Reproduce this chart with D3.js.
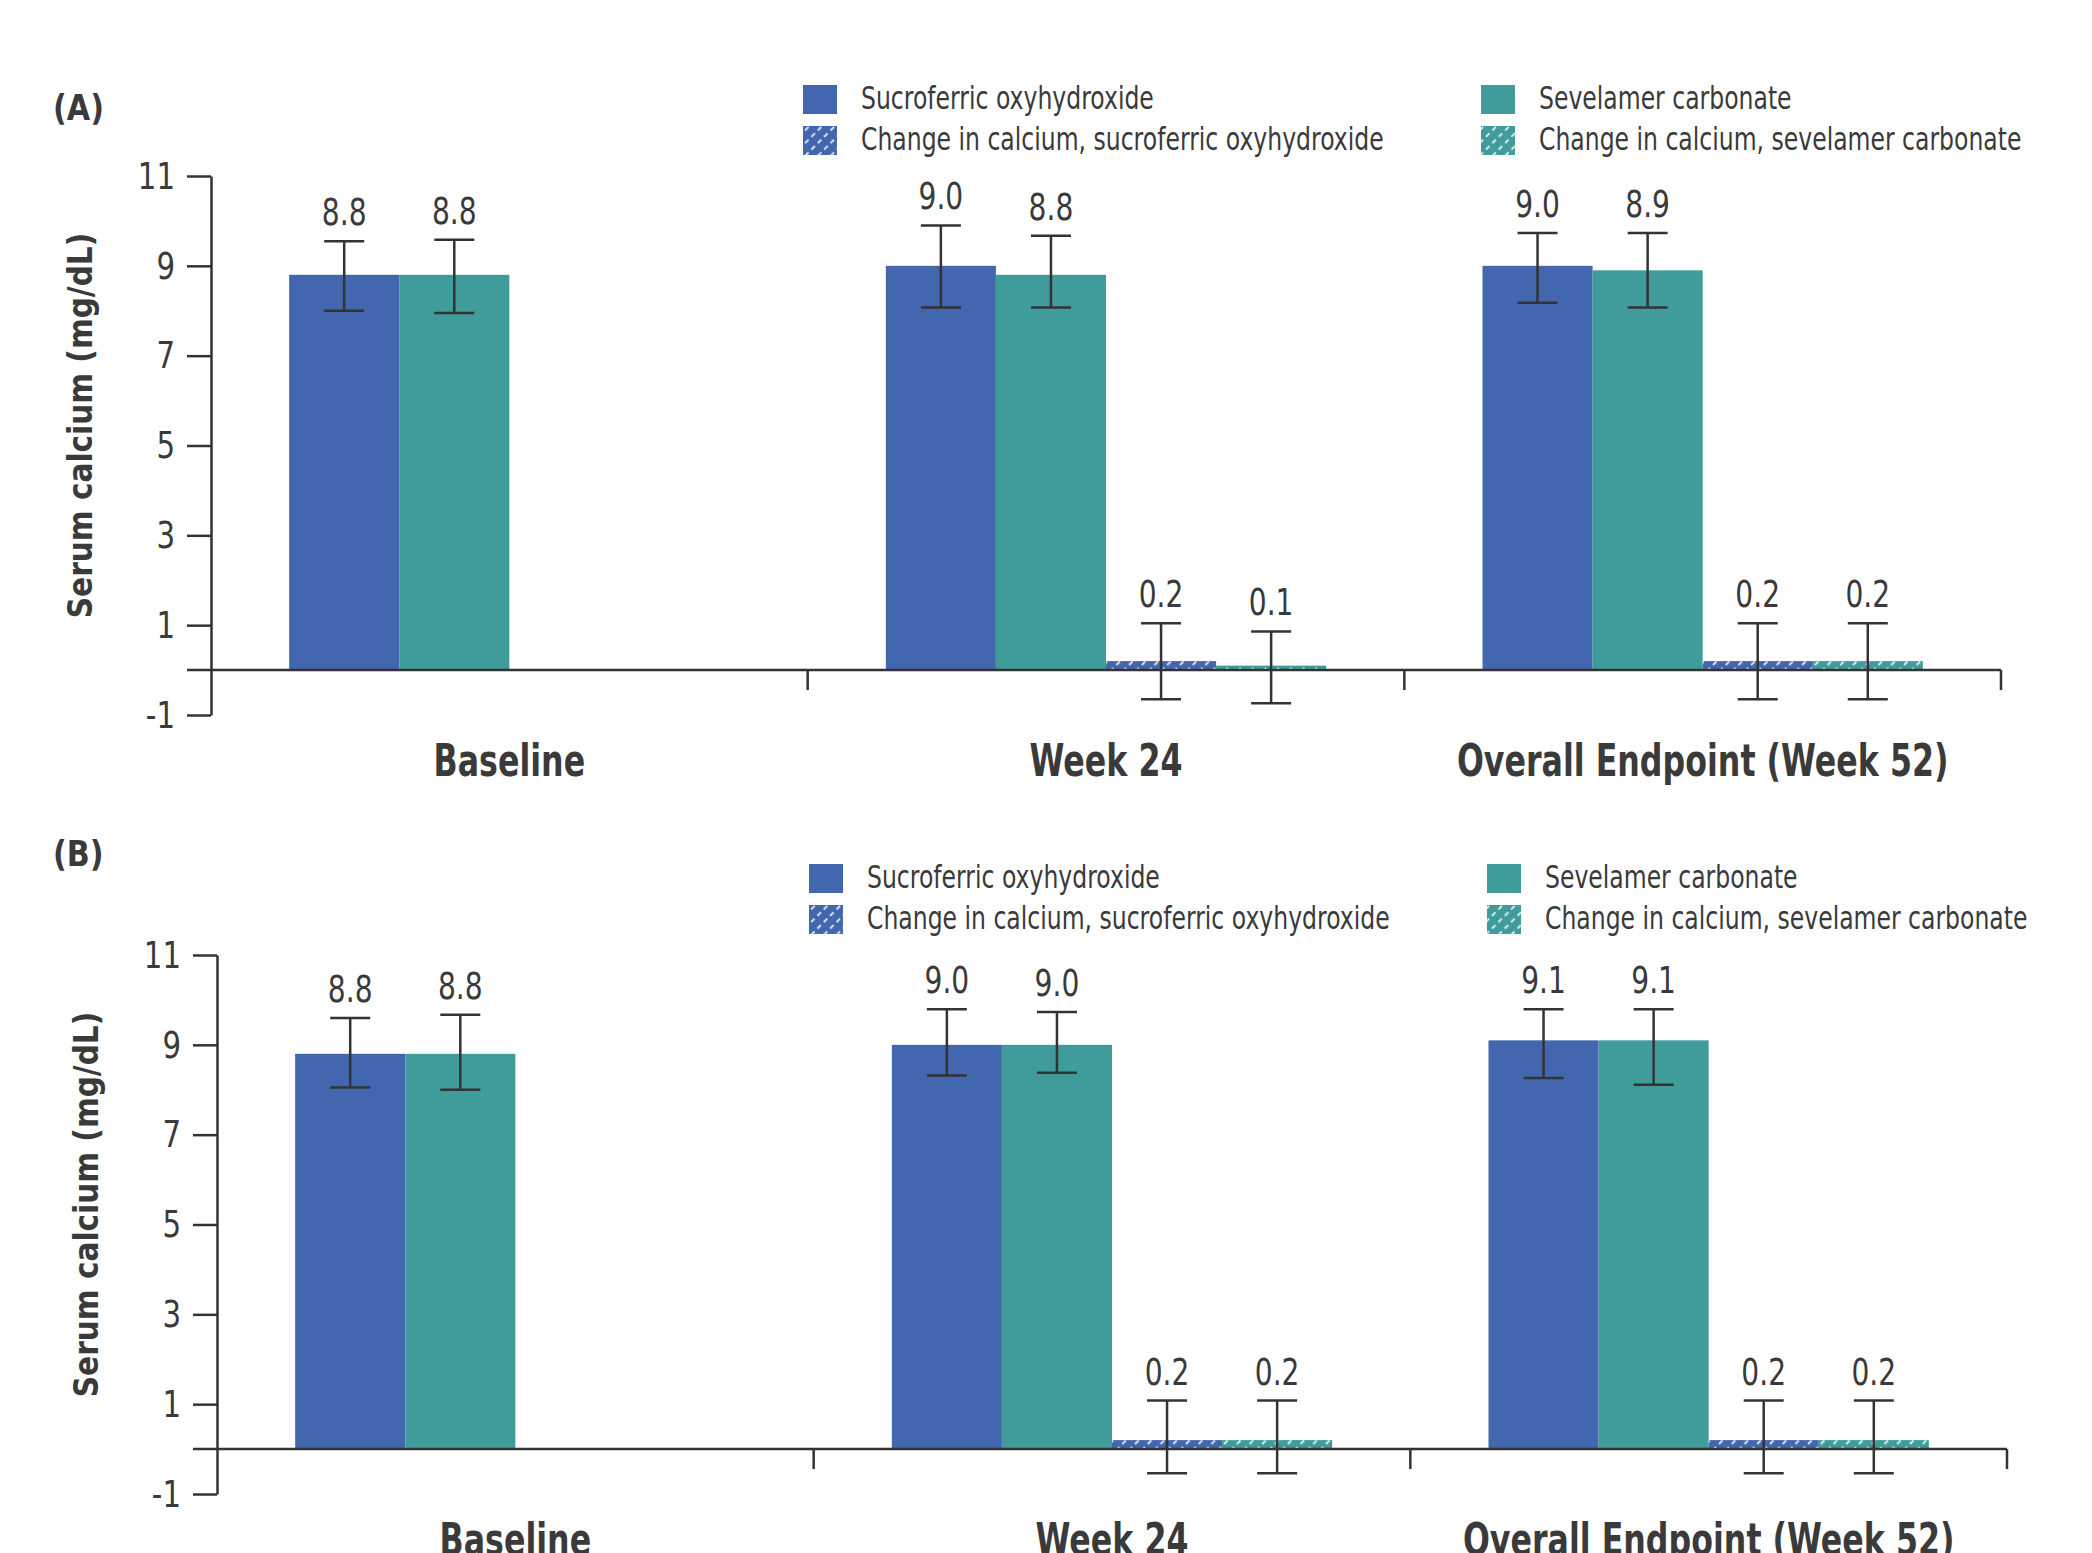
<!DOCTYPE html>
<html>
<head>
<meta charset="utf-8">
<script src="https://cdn.jsdelivr.net/npm/d3@7"></script>
<style>
  html, body { margin: 0; padding: 0; background: #fff; }
  svg { display: block; }
  text { font-family: 'DejaVu Sans', sans-serif; fill: #3a3a3a; }
</style>
</head>
<body>
<div id="chart"></div>
<script>
// categories and series
const categories = ['Baseline', 'Week 24', 'Overall Endpoint (Week 52)'];
const seriesKeys = ['sucro', 'sevel', 'chgSucro', 'chgSevel'];
const seriesNames = [
    'Sucroferric oxyhydroxide',
    'Change in calcium, sucroferric oxyhydroxide',
    'Sevelamer carbonate',
    'Change in calcium, sevelamer carbonate'
];
const yTicks = [-1, 1, 3, 5, 7, 9, 11];

// panel A values (mg/dL), null = no bar
const aSucro = [8.8, 9.0, 9.0];
const aSevel = [8.8, 8.8, 8.9];
const aChgSucro = [null, 0.2, 0.2];
const aChgSevel = [null, 0.1, 0.2];
const aSucroLo = [8.0, 8.07, 8.18];
const aSucroHi = [9.55, 9.9, 9.73];
const aSevelLo = [7.95, 8.07, 8.07];
const aSevelHi = [9.58, 9.67, 9.73];
const aChgSucroLo = [null, -0.65, -0.65];
const aChgSucroHi = [null, 1.04, 1.04];
const aChgSevelLo = [null, -0.74, -0.65];
const aChgSevelHi = [null, 0.86, 1.04];

// panel B values
const bSucro = [8.8, 9.0, 9.1];
const bSevel = [8.8, 9.0, 9.1];
const bChgSucro = [null, 0.2, 0.2];
const bChgSevel = [null, 0.2, 0.2];
const bSucroLo = [8.05, 8.32, 8.26];
const bSucroHi = [9.6, 9.79, 9.79];
const bSevelLo = [8.0, 8.38, 8.11];
const bSevelHi = [9.67, 9.73, 9.79];
const bChgSucroLo = [null, -0.54, -0.54];
const bChgSucroHi = [null, 1.08, 1.08];
const bChgSevelLo = [null, -0.54, -0.54];
const bChgSevelHi = [null, 1.08, 1.08];

const blue = '#4267af';
const teal = '#3f9c9a';
const ink = '#333';

const width = 2092, height = 1553;
const svg = d3.select('#chart').append('svg')
    .attr('width', width)
    .attr('height', height);

svg.append('rect').attr('width', width).attr('height', height).attr('fill', '#fff');

// squeeze text horizontally, the original uses a condensed face
function condense(sel, k) {
    sel.each(function () {
        const t = d3.select(this);
        const tx = +t.attr('x') || 0, ty = +t.attr('y') || 0;
        const base = t.attr('transform') || '';
        t.attr('x', null).attr('y', null)
            .attr('transform', `${base} translate(${tx},${ty}) scale(${k},1)`);
    });
}

// hatch patterns for the change bars
const defs = svg.append('defs');
function hatch(id, color) {
    const p = defs.append('pattern')
        .attr('id', id)
        .attr('patternUnits', 'userSpaceOnUse')
        .attr('width', 9).attr('height', 9)
        .attr('patternTransform', 'rotate(-45)');
    p.append('rect').attr('width', 9).attr('height', 9).attr('fill', color);
    p.append('line')
        .attr('x1', 0).attr('y1', 4.5).attr('x2', 9).attr('y2', 4.5)
        .attr('stroke', '#fff').attr('stroke-width', 1.6)
        .attr('stroke-dasharray', '5 4');
}
hatch('hatchBlue', blue);
hatch('hatchTeal', teal);

const fills = { sucro: blue, sevel: teal, chgSucro: 'url(#hatchBlue)', chgSevel: 'url(#hatchTeal)' };

function makeRows(v) {
    return categories.map((c, i) => ({
        cat: c,
        bars: seriesKeys.map(k => ({ key: k, value: v[k][i], lo: v[k + 'Lo'][i], hi: v[k + 'Hi'][i] }))
            .filter(b => b.value !== null)
    }));
}

const panels = [
    {
        letter: '(A)', letterY: 110, ox: 0, oy: 0,
        rows: makeRows({
            sucro: aSucro, sevel: aSevel, chgSucro: aChgSucro, chgSevel: aChgSevel,
            sucroLo: aSucroLo, sucroHi: aSucroHi, sevelLo: aSevelLo, sevelHi: aSevelHi,
            chgSucroLo: aChgSucroLo, chgSucroHi: aChgSucroHi, chgSevelLo: aChgSevelLo, chgSevelHi: aChgSevelHi
        })
    },
    {
        letter: '(B)', letterY: 856, ox: 6, oy: 779,
        rows: makeRows({
            sucro: bSucro, sevel: bSevel, chgSucro: bChgSucro, chgSevel: bChgSevel,
            sucroLo: bSucroLo, sucroHi: bSucroHi, sevelLo: bSevelLo, sevelHi: bSevelHi,
            chgSucroLo: bChgSucroLo, chgSucroHi: bChgSucroHi, chgSevelLo: bChgSevelLo, chgSevelHi: bChgSevelHi
        })
    }
];

panels.forEach(panel => {
    svg.append('text')
        .attr('x', 53).attr('y', panel.letterY)
        .attr('dominant-baseline', 'middle')
        .attr('font-size', 36).attr('font-weight', 'bold')
        .text(panel.letter)
        .call(condense, 0.84);

    const g = svg.append('g').attr('transform', `translate(${panel.ox},${panel.oy})`);

    const y = d3.scaleLinear().domain([-1, 11]).range([715, 176]);
    const x = d3.scaleBand().domain(categories).range([211, 2001]);
    const xs = d3.scaleBand().domain(seriesKeys).range([0, x.bandwidth()]).paddingOuter(0.71);

    // y axis
    const yAxis = g.append('g')
        .attr('transform', 'translate(211,0)')
        .call(d3.axisLeft(y).tickValues(yTicks).tickFormat(d => String(d))
            .tickSize(24).tickSizeOuter(0).tickPadding(12));
    yAxis.selectAll('path, line').attr('stroke', ink).attr('stroke-width', 2.5);
    yAxis.selectAll('text')
        .attr('font-size', 38).attr('font-family', null).attr('fill', '#3a3a3a')
        .call(condense, 0.77);

    g.append('text')
        .attr('transform', `translate(82,${(y(11) + y(-1)) / 2 - 20}) rotate(-90)`)
        .attr('text-anchor', 'middle')
        .attr('dominant-baseline', 'middle')
        .attr('font-size', 34).attr('font-weight', 'bold')
        .text('Serum calcium (mg/dL)')
        .call(condense, 0.87);

    // legend
    const legend = g.append('g');
    seriesNames.forEach((name, i) => {
        const col = Math.floor(i / 2), row = i % 2;
        const lx = col === 0 ? 803 : 1481;
        const ly = 85 + row * 41;
        const key = ['sucro', 'chgSucro', 'sevel', 'chgSevel'][i];
        legend.append('rect')
            .attr('x', lx).attr('y', ly).attr('width', 34).attr('height', 29)
            .attr('fill', fills[key]);
        legend.append('text')
            .attr('x', lx + 58).attr('y', ly + 15)
            .attr('dominant-baseline', 'middle')
            .attr('font-size', 32)
            .text(name)
            .call(condense, 0.735);
    });

    // bars
    const groups = g.selectAll('.cat')
        .data(panel.rows)
        .join('g')
        .attr('transform', d => `translate(${x(d.cat)},0)`);

    groups.selectAll('rect')
        .data(d => d.bars)
        .join('rect')
        .attr('x', d => xs(d.key))
        .attr('width', xs.bandwidth())
        .attr('y', d => y(d.value))
        .attr('height', d => y(0) - y(d.value))
        .attr('fill', d => fills[d.key]);

    // zero line and category ticks
    g.append('line')
        .attr('x1', 187).attr('x2', 2001)
        .attr('y1', y(0)).attr('y2', y(0))
        .attr('stroke', ink).attr('stroke-width', 2.5);
    g.selectAll('.sep')
        .data(categories)
        .join('line')
        .attr('x1', d => x(d) + x.bandwidth()).attr('x2', d => x(d) + x.bandwidth())
        .attr('y1', y(0)).attr('y2', y(0) + 20)
        .attr('stroke', ink).attr('stroke-width', 2.5);

    // error bars
    const err = groups.selectAll('.err')
        .data(d => d.bars)
        .join('g')
        .attr('transform', d => `translate(${xs(d.key) + xs.bandwidth() / 2},0)`)
        .attr('stroke', ink).attr('stroke-width', 2.5);
    err.append('line').attr('y1', d => y(d.lo)).attr('y2', d => y(d.hi));
    err.append('line').attr('x1', -20).attr('x2', 20).attr('y1', d => y(d.hi)).attr('y2', d => y(d.hi));
    err.append('line').attr('x1', -20).attr('x2', 20).attr('y1', d => y(d.lo)).attr('y2', d => y(d.lo));

    // value labels
    groups.selectAll('.val')
        .data(d => d.bars)
        .join('text')
        .attr('x', d => xs(d.key) + xs.bandwidth() / 2)
        .attr('y', d => y(d.hi) - 16)
        .attr('text-anchor', 'middle')
        .attr('font-size', 37)
        .text(d => d3.format('.1f')(d.value))
        .call(condense, 0.76);

    // category labels
    g.selectAll('.catLabel')
        .data(categories)
        .join('text')
        .attr('x', d => x(d) + x.bandwidth() / 2)
        .attr('y', 776)
        .attr('text-anchor', 'middle')
        .attr('font-size', 44).attr('font-weight', 'bold')
        .text(d => d)
        .call(condense, 0.72);
});
</script>
</body>
</html>
